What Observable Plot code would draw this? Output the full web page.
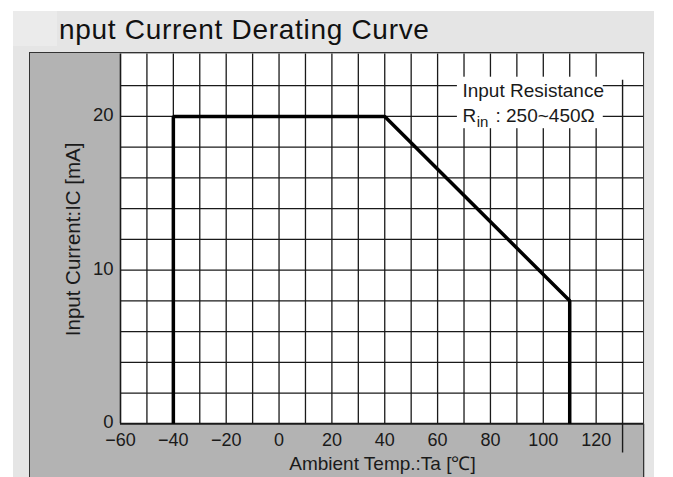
<!DOCTYPE html>
<html>
<head>
<meta charset="utf-8">
<script src="https://cdn.jsdelivr.net/npm/d3@7"></script>
<script src="https://cdn.jsdelivr.net/npm/@observablehq/plot@0.6"></script>
<style>
  html, body { margin: 0; padding: 0; background: white; }
  #wrap { position: relative; width: 673px; height: 477px; overflow: hidden; font-family: "Liberation Sans", Arial, sans-serif; }
  #box { position: absolute; left: 13px; top: 11px; width: 641px; height: 466px; background: #e5e5e5; }
  #patch { position: absolute; left: 13px; top: 11px; width: 44px; height: 35px; background: #ebebeb; }
  #title { position: absolute; left: 59px; top: 15.5px; font-size: 28px; line-height: 28px; letter-spacing: 0.7px; color: #111; white-space: nowrap; }
  #panel { position: absolute; left: 29px; top: 52px; width: 616px; height: 425px; background: #b3b3b3; }
  #border { position: absolute; left: 29px; top: 52px; width: 613px; height: 430px; border-top: 1.5px solid #333; border-left: 1.5px solid #333; border-right: 1.5px solid #333; z-index: 3; }
  #chart { position: absolute; left: 0; top: 0; z-index: 2; }
</style>
</head>
<body>
<div id="wrap">
  <div id="box"></div>
  <div id="patch"></div>
  <div id="title">nput Current Derating Curve</div>
  <div id="panel"></div>
  <div id="chart"></div>
  <div id="border"></div>
</div>
<script>
// Data
const temps = [-40, -40, 40, 110, 110];
const currents = [0, 20, 20, 8, 0];

// Tick labels / grid
const xTickLabels = [-60, -40, -20, 0, 20, 40, 60, 80, 100, 120];
const yTickLabels = [0, 10, 20];
const xGrid = [-50, -40, -30, -20, -10, 0, 10, 20, 30, 40, 50, 60, 70, 80, 90, 100, 110, 120];
const yGrid = [2, 4, 6, 8, 10, 12, 14, 16, 18, 20, 22];

const xTitle = "Ambient Temp.:Ta [℃]";
const yTitle = "Input Current:IC [mA]";
const noteLine1 = "Input Resistance";
const noteR = "R";
const noteSub = "in";
const noteRest = ": 250~450Ω";

const xMax = 138.3, yMax = 24.06;
const curve = temps.map((t, i) => ({t, c: currents[i]}));
const ink = "#1a1a1a";

const chart = Plot.plot({
  width: 673,
  height: 477,
  marginLeft: 120,
  marginRight: 29,
  marginTop: 53.5,
  marginBottom: 53.7,
  style: {background: "transparent", fontFamily: "Liberation Sans, Arial, sans-serif"},
  x: {domain: [-60, xMax], axis: null},
  y: {domain: [0, yMax], axis: null},
  marks: [
    Plot.frame({fill: "white", stroke: null}),
    Plot.ruleX(xGrid, {y1: 0, y2: yMax, stroke: ink, strokeWidth: 1.3}),
    Plot.ruleY(yGrid, {x1: -60, x2: xMax, stroke: ink, strokeWidth: 1.3}),
    Plot.rect([{x1: 67.5, x2: 122.7, y1: 19.2, y2: 22.55}], {x1: "x1", x2: "x2", y1: "y1", y2: "y2", fill: "white"}),
    Plot.ruleX([130], {y1: -1.9, y2: 22.35, stroke: ink, strokeWidth: 1.4, clip: false}),
    Plot.ruleX([-60], {y1: 0, y2: yMax, stroke: ink, strokeWidth: 1.6}),
    Plot.ruleY([0], {x1: -60, x2: xMax, stroke: ink, strokeWidth: 2}),
    Plot.line(curve, {x: "t", y: "c", stroke: "black", strokeWidth: 3.5, strokeLinejoin: "miter", strokeLinecap: "butt"}),
    Plot.text([noteLine1], {x: 69.4, y: 21.65, text: d => d, textAnchor: "start", fontSize: 19, fill: ink}),
    Plot.text([noteR], {x: 69.4, y: 20.0, text: d => d, textAnchor: "start", fontSize: 19, fill: ink}),
    Plot.text([noteSub], {x: 74.8, y: 19.63, text: d => d, textAnchor: "start", fontSize: 15, fill: ink}),
    Plot.text([noteRest], {x: 81.9, y: 20.0, text: d => d, textAnchor: "start", fontSize: 19, fill: ink}),
    Plot.axisX(xTickLabels, {tickSize: 0, tickPadding: 9.5, fontSize: 18, color: ink, label: null}),
    Plot.axisY(yTickLabels, {tickSize: 0, tickPadding: 7, fontSize: 18.5, dy: -1.5, color: ink, label: null}),
    Plot.text([xTitle], {frameAnchor: "bottom", dy: 32.5, lineAnchor: "top", text: d => d, fontSize: 19, fill: ink}),
    Plot.text([yTitle], {x: -77.8, y: 12, rotate: -90, lineAnchor: "middle", text: d => d, fontSize: 20.5, fill: ink})
  ]
});
document.getElementById("chart").appendChild(chart);
</script>
</body>
</html>
